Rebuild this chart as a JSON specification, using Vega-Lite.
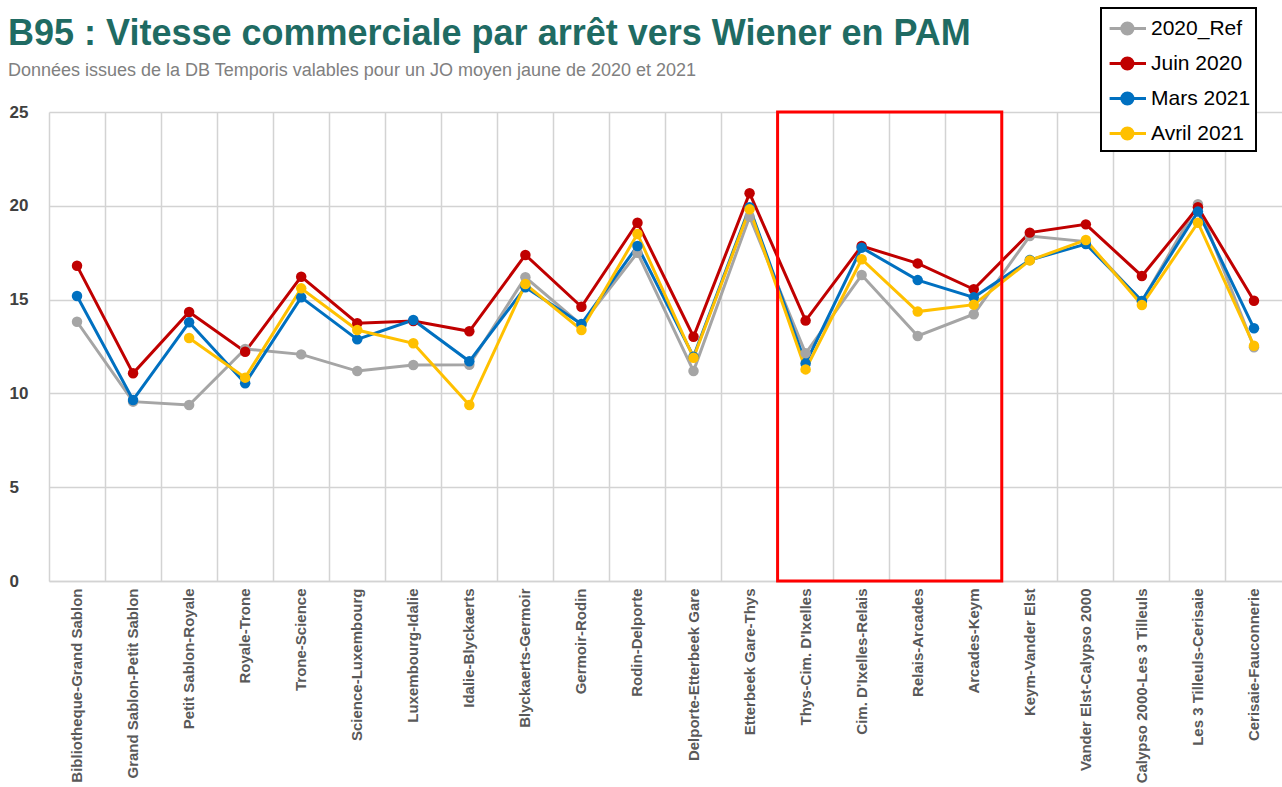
{
  "$schema": "https://vega.github.io/schema/vega-lite/v6.json",
  "width": 1233,
  "height": 469,
  "autosize": {"type": "none"},
  "padding": {"left": 49, "top": 112, "right": 0, "bottom": 206},
  "background": "white",
  "title": {
    "text": "B95 : Vitesse commerciale par arrêt vers Wiener en PAM",
    "subtitle": "Données issues de la DB Temporis valables pour un JO moyen jaune de 2020 et 2021",
    "anchor": "start",
    "frame": "group",
    "dx": -41,
    "offset": 0,
    "dy": 74,
    "font": "Liberation Sans",
    "fontSize": 36,
    "fontWeight": "bold",
    "color": "#1F6B63",
    "subtitleFont": "Liberation Sans",
    "subtitleFontSize": 18,
    "subtitleColor": "#808080",
    "subtitlePadding": 9
  },
  "config": {
    "view": {"stroke": null},
    "axis": {
      "gridColor": "#D3D3D3",
      "gridWidth": 1.5,
      "domainColor": "#D3D3D3",
      "domainWidth": 1.5,
      "ticks": false,
      "title": null
    }
  },
  "datasets": {
    "speeds": [
      {"seg": "Bibliotheque-Grand Sablon", "serie": "2020_Ref", "v": 13.82},
      {"seg": "Grand Sablon-Petit Sablon", "serie": "2020_Ref", "v": 9.56},
      {"seg": "Petit Sablon-Royale", "serie": "2020_Ref", "v": 9.38},
      {"seg": "Royale-Trone", "serie": "2020_Ref", "v": 12.37},
      {"seg": "Trone-Science", "serie": "2020_Ref", "v": 12.08},
      {"seg": "Science-Luxembourg", "serie": "2020_Ref", "v": 11.19},
      {"seg": "Luxembourg-Idalie", "serie": "2020_Ref", "v": 11.51},
      {"seg": "Idalie-Blyckaerts", "serie": "2020_Ref", "v": 11.53},
      {"seg": "Blyckaerts-Germoir", "serie": "2020_Ref", "v": 16.19},
      {"seg": "Germoir-Rodin", "serie": "2020_Ref", "v": 13.65},
      {"seg": "Rodin-Delporte", "serie": "2020_Ref", "v": 17.5},
      {"seg": "Delporte-Etterbeek Gare", "serie": "2020_Ref", "v": 11.19},
      {"seg": "Etterbeek Gare-Thys", "serie": "2020_Ref", "v": 19.42},
      {"seg": "Thys-Cim. D'Ixelles", "serie": "2020_Ref", "v": 12.14},
      {"seg": "Cim. D'Ixelles-Relais", "serie": "2020_Ref", "v": 16.31},
      {"seg": "Relais-Arcades", "serie": "2020_Ref", "v": 13.06},
      {"seg": "Arcades-Keym", "serie": "2020_Ref", "v": 14.22},
      {"seg": "Keym-Vander Elst", "serie": "2020_Ref", "v": 18.39},
      {"seg": "Vander Elst-Calypso 2000", "serie": "2020_Ref", "v": 18.09},
      {"seg": "Calypso 2000-Les 3 Tilleuls", "serie": "2020_Ref", "v": 14.9},
      {"seg": "Les 3 Tilleuls-Cerisaie", "serie": "2020_Ref", "v": 20.08},
      {"seg": "Cerisaie-Fauconnerie", "serie": "2020_Ref", "v": 12.46},
      {"seg": "Bibliotheque-Grand Sablon", "serie": "Juin 2020", "v": 16.8},
      {"seg": "Grand Sablon-Petit Sablon", "serie": "Juin 2020", "v": 11.07},
      {"seg": "Petit Sablon-Royale", "serie": "Juin 2020", "v": 14.34},
      {"seg": "Royale-Trone", "serie": "Juin 2020", "v": 12.22},
      {"seg": "Trone-Science", "serie": "Juin 2020", "v": 16.22},
      {"seg": "Science-Luxembourg", "serie": "Juin 2020", "v": 13.74},
      {"seg": "Luxembourg-Idalie", "serie": "Juin 2020", "v": 13.86},
      {"seg": "Idalie-Blyckaerts", "serie": "Juin 2020", "v": 13.31},
      {"seg": "Blyckaerts-Germoir", "serie": "Juin 2020", "v": 17.38},
      {"seg": "Germoir-Rodin", "serie": "Juin 2020", "v": 14.62},
      {"seg": "Rodin-Delporte", "serie": "Juin 2020", "v": 19.1},
      {"seg": "Delporte-Etterbeek Gare", "serie": "Juin 2020", "v": 13.02},
      {"seg": "Etterbeek Gare-Thys", "serie": "Juin 2020", "v": 20.67},
      {"seg": "Thys-Cim. D'Ixelles", "serie": "Juin 2020", "v": 13.88},
      {"seg": "Cim. D'Ixelles-Relais", "serie": "Juin 2020", "v": 17.86},
      {"seg": "Relais-Arcades", "serie": "Juin 2020", "v": 16.93},
      {"seg": "Arcades-Keym", "serie": "Juin 2020", "v": 15.55},
      {"seg": "Keym-Vander Elst", "serie": "Juin 2020", "v": 18.57},
      {"seg": "Vander Elst-Calypso 2000", "serie": "Juin 2020", "v": 19.01},
      {"seg": "Calypso 2000-Les 3 Tilleuls", "serie": "Juin 2020", "v": 16.26},
      {"seg": "Les 3 Tilleuls-Cerisaie", "serie": "Juin 2020", "v": 19.92},
      {"seg": "Cerisaie-Fauconnerie", "serie": "Juin 2020", "v": 14.94},
      {"seg": "Bibliotheque-Grand Sablon", "serie": "Mars 2021", "v": 15.19},
      {"seg": "Grand Sablon-Petit Sablon", "serie": "Mars 2021", "v": 9.65},
      {"seg": "Petit Sablon-Royale", "serie": "Mars 2021", "v": 13.79},
      {"seg": "Royale-Trone", "serie": "Mars 2021", "v": 10.54},
      {"seg": "Trone-Science", "serie": "Mars 2021", "v": 15.12},
      {"seg": "Science-Luxembourg", "serie": "Mars 2021", "v": 12.88},
      {"seg": "Luxembourg-Idalie", "serie": "Mars 2021", "v": 13.91},
      {"seg": "Idalie-Blyckaerts", "serie": "Mars 2021", "v": 11.71},
      {"seg": "Blyckaerts-Germoir", "serie": "Mars 2021", "v": 15.66},
      {"seg": "Germoir-Rodin", "serie": "Mars 2021", "v": 13.7},
      {"seg": "Rodin-Delporte", "serie": "Mars 2021", "v": 17.86},
      {"seg": "Delporte-Etterbeek Gare", "serie": "Mars 2021", "v": 11.96},
      {"seg": "Etterbeek Gare-Thys", "serie": "Mars 2021", "v": 19.92},
      {"seg": "Thys-Cim. D'Ixelles", "serie": "Mars 2021", "v": 11.6},
      {"seg": "Cim. D'Ixelles-Relais", "serie": "Mars 2021", "v": 17.77},
      {"seg": "Relais-Arcades", "serie": "Mars 2021", "v": 16.04},
      {"seg": "Arcades-Keym", "serie": "Mars 2021", "v": 15.12},
      {"seg": "Keym-Vander Elst", "serie": "Mars 2021", "v": 17.11},
      {"seg": "Vander Elst-Calypso 2000", "serie": "Mars 2021", "v": 17.96},
      {"seg": "Calypso 2000-Les 3 Tilleuls", "serie": "Mars 2021", "v": 14.93},
      {"seg": "Les 3 Tilleuls-Cerisaie", "serie": "Mars 2021", "v": 19.69},
      {"seg": "Cerisaie-Fauconnerie", "serie": "Mars 2021", "v": 13.47},
      {"seg": "Petit Sablon-Royale", "serie": "Avril 2021", "v": 12.95},
      {"seg": "Royale-Trone", "serie": "Avril 2021", "v": 10.84},
      {"seg": "Trone-Science", "serie": "Avril 2021", "v": 15.6},
      {"seg": "Science-Luxembourg", "serie": "Avril 2021", "v": 13.38},
      {"seg": "Luxembourg-Idalie", "serie": "Avril 2021", "v": 12.67},
      {"seg": "Idalie-Blyckaerts", "serie": "Avril 2021", "v": 9.38},
      {"seg": "Blyckaerts-Germoir", "serie": "Avril 2021", "v": 15.83},
      {"seg": "Germoir-Rodin", "serie": "Avril 2021", "v": 13.38},
      {"seg": "Rodin-Delporte", "serie": "Avril 2021", "v": 18.5},
      {"seg": "Delporte-Etterbeek Gare", "serie": "Avril 2021", "v": 11.9},
      {"seg": "Etterbeek Gare-Thys", "serie": "Avril 2021", "v": 19.81},
      {"seg": "Thys-Cim. D'Ixelles", "serie": "Avril 2021", "v": 11.28},
      {"seg": "Cim. D'Ixelles-Relais", "serie": "Avril 2021", "v": 17.15},
      {"seg": "Relais-Arcades", "serie": "Avril 2021", "v": 14.36},
      {"seg": "Arcades-Keym", "serie": "Avril 2021", "v": 14.73},
      {"seg": "Keym-Vander Elst", "serie": "Avril 2021", "v": 17.09},
      {"seg": "Vander Elst-Calypso 2000", "serie": "Avril 2021", "v": 18.18},
      {"seg": "Calypso 2000-Les 3 Tilleuls", "serie": "Avril 2021", "v": 14.71},
      {"seg": "Les 3 Tilleuls-Cerisaie", "serie": "Avril 2021", "v": 19.1},
      {"seg": "Cerisaie-Fauconnerie", "serie": "Avril 2021", "v": 12.54}
    ],
    "zone": [
      {"start": "Thys-Cim. D'Ixelles", "end": "Arcades-Keym", "low": 0, "high": 25}
    ]
  },
  "encoding": {
    "x": {
      "field": "seg",
      "type": "nominal",
      "bandPosition": 0.5,
      "scale": {
        "type": "band",
        "paddingInner": 0,
        "paddingOuter": 0,
        "domain": ["Bibliotheque-Grand Sablon", "Grand Sablon-Petit Sablon", "Petit Sablon-Royale", "Royale-Trone", "Trone-Science", "Science-Luxembourg", "Luxembourg-Idalie", "Idalie-Blyckaerts", "Blyckaerts-Germoir", "Germoir-Rodin", "Rodin-Delporte", "Delporte-Etterbeek Gare", "Etterbeek Gare-Thys", "Thys-Cim. D'Ixelles", "Cim. D'Ixelles-Relais", "Relais-Arcades", "Arcades-Keym", "Keym-Vander Elst", "Vander Elst-Calypso 2000", "Calypso 2000-Les 3 Tilleuls", "Les 3 Tilleuls-Cerisaie", "Cerisaie-Fauconnerie"]
      },
      "axis": {
        "bandPosition": 0,
        "grid": true,
        "labelAngle": -90,
        "labelAlign": "right",
        "labelBaseline": "middle",
        "labelFont": "Liberation Sans",
        "labelFontSize": 15,
        "labelFontWeight": "bold",
        "labelColor": "#595959",
        "labelPadding": 7,
        "labelLimit": 300
      }
    },
    "y": {
      "field": "v",
      "type": "quantitative",
      "scale": {"domain": [0, 25], "nice": false},
      "axis": {
        "values": [0, 5, 10, 15, 20, 25],
        "grid": true,
        "domain": false,
        "labelFont": "Liberation Sans",
        "labelFontSize": 17,
        "labelFontWeight": "bold",
        "labelColor": "#404040",
        "labelAlign": "left",
        "labelPadding": 40
      }
    }
  },
  "layer": [
    {
      "data": {"name": "speeds"},
      "mark": {"type": "line", "strokeWidth": 3},
      "encoding": {
        "color": {
          "field": "serie",
          "type": "nominal",
          "scale": {
            "domain": ["2020_Ref", "Juin 2020", "Mars 2021", "Avril 2021"],
            "range": ["#A5A5A5", "#C00000", "#0070C0", "#FFC000"]
          },
          "legend": {
            "orient": "none",
            "legendX": 1052,
            "legendY": -104,
            "title": null,
            "direction": "vertical",
            "fillColor": "white",
            "strokeColor": "black",
            "padding": 5,
            "rowPadding": 7,
            "symbolSize": 784,
            "symbolType": "M-0.85,0L1.75,0M0.02,0A0.4,0.4 0 1,0 0.82,0A0.4,0.4 0 1,0 0.02,0Z",
            "symbolStrokeWidth": 3,
            "labelOffset": 14,
            "labelFont": "Liberation Sans",
            "labelFontSize": 21,
            "labelColor": "#000000",
            "labelLimit": 300,
            "encode": {
              "legend": {"update": {"strokeWidth": {"value": 2}}},
              "symbols": {
                "update": {
                  "fill": {"scale": "color", "field": "value"},
                  "stroke": {"scale": "color", "field": "value"},
                  "fillOpacity": {"value": 1}
                }
              }
            }
          }
        }
      }
    },
    {
      "data": {"name": "speeds"},
      "mark": {"type": "point", "filled": true, "size": 110, "opacity": 1},
      "encoding": {
        "color": {"field": "serie", "type": "nominal", "legend": null}
      }
    },
    {
      "data": {"name": "zone"},
      "mark": {"type": "rect", "fill": null, "stroke": "#FF0000", "strokeWidth": 3},
      "encoding": {
        "x": {"field": "start", "type": "nominal", "bandPosition": 0},
        "x2": {"field": "end", "bandPosition": 1},
        "y": {"field": "high", "type": "quantitative"},
        "y2": {"field": "low"}
      }
    }
  ]
}
